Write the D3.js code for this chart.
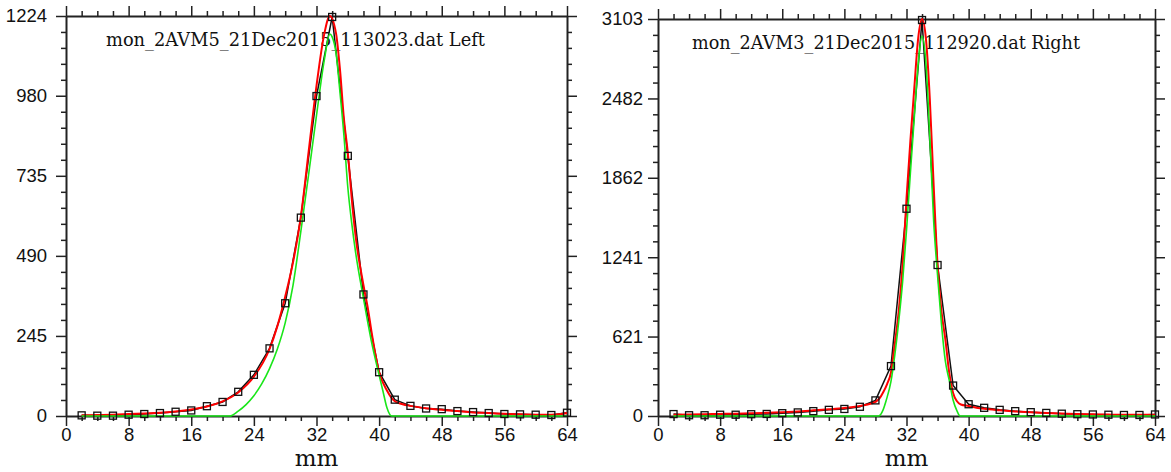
<!DOCTYPE html>
<html>
<head>
<meta charset="utf-8">
<script src="https://cdn.jsdelivr.net/npm/d3@7"></script>
<style>
    body { margin: 0; background: #fff; }
    .axis path, .axis line { stroke: #222; }
    .frame path { stroke-width: 2px; }
    .axis line { stroke-width: 1.5px; }
    .title { font-family: "DejaVu Serif", serif; font-size: 19px; fill: #111; }
    .axis-title { font-family: "DejaVu Serif", serif; font-size: 23px; fill: #111; }
</style>
</head>
<body>
<svg id="chart" width="1171" height="472"></svg>
<script>

// scan positions (mm) of the measured points
var scanPos = [2, 4, 6, 8, 10, 12, 14, 16, 18, 20, 22, 24, 26, 28, 30, 32,
               34, 36, 38, 40, 42, 44, 46, 48, 50, 52, 54, 56, 58, 60, 62, 64];

var xTicks = [0, 8, 16, 24, 32, 40, 48, 56, 64];

// ---- Left monitor ----
var leftMeasured = [2, 1, 1, 4, 6, 9, 13, 17, 30, 43, 74, 126, 207, 345, 607, 979,
                    1221, 796, 372, 134, 50, 31, 23, 21, 15, 12, 9, 6, 5, 4, 3, 10];

var leftFitX = [2, 4, 6, 8, 10, 12, 14, 16, 18, 20, 22, 24, 26, 27, 28, 29, 30, 31, 32, 33, 33.7,
                34.5, 35, 35.5, 36, 36.6, 37, 38, 38.6, 39, 40, 41, 42, 43, 44, 46, 48, 50, 52,
                54, 56, 58, 60, 62, 63, 64];
var leftFit = [2, 3, 4, 6, 8, 10, 14, 20, 29, 45, 72, 120, 205, 275, 365, 470, 610, 810, 1010, 1170, 1224,
               1170, 1060, 910, 805, 640, 550, 400, 324, 262, 135, 78, 45, 36, 31, 24, 19, 15, 11,
               9, 7, 5, 4, 4, 5, 9];

var leftGaussX = [2, 20.9, 22, 23, 24, 25, 26, 27, 28, 29, 30, 31, 32, 33, 33.7, 34, 34.5, 35,
                  35.5, 36, 36.5, 37, 38, 39, 40, 40.5, 41, 41.6, 64];
var leftGauss = [0, 0, 15, 35, 62, 98, 145, 205, 285, 400, 565, 740, 920, 1090, 1169, 1160, 1110, 990,
                 860, 700, 590, 500, 360, 230, 125, 75, 25, 0, 0];

var leftYTicks = [0, 245, 490, 735, 980, 1224];

// ---- Right monitor ----
var rightMeasured = [15, 6, 6, 10, 10, 14, 16, 22, 28, 38, 48, 55, 72, 122, 390, 1620,
                     3095, 1180, 238, 92, 64, 48, 38, 30, 24, 18, 14, 12, 10, 8, 8, 12];

var rightFitX = [2, 4, 6, 8, 10, 12, 14, 16, 18, 20, 22, 24, 26, 27, 28, 28.5, 29, 29.5, 30, 30.5,
                 31, 31.5, 32, 32.5, 33, 33.5, 34, 34.5, 35, 35.5, 36, 36.5, 37, 37.5, 38, 38.5,
                 39, 40, 41, 42, 44, 46, 48, 50, 52, 54, 56, 58, 60, 62, 64];
var rightFit = [10, 12, 14, 16, 18, 21, 25, 30, 36, 44, 52, 62, 78, 90, 110, 135, 185, 250, 340, 568,
                820, 1180, 1700, 2150, 2560, 2950, 3103, 2950, 2480, 1800, 1180, 820, 600, 340, 180, 115,
                90, 78, 65, 56, 45, 36, 29, 23, 19, 15, 13, 11, 10, 9, 9];

var rightGaussX = [2, 28.4, 29, 29.4, 30, 30.5, 31, 31.5, 32, 32.5, 33, 33.5, 34, 34.5, 35, 35.5,
                   36, 36.5, 37, 37.5, 38, 38.5, 38.9, 64];
var rightGauss = [0, 0, 50, 125, 270, 480, 740, 1050, 1450, 1900, 2330, 2750, 2970, 2760, 2180, 1520,
                  1100, 720, 430, 280, 125, 40, 0, 0];

var rightYTicks = [0, 621, 1241, 1862, 2482, 3103];


/*
 * profileChart - one monitor panel (measured points, fit, gaussian)
 */
profileChart = function(_svg, _cfg){
    this.svg = _svg;
    this.cfg = _cfg;
    this.initVis();
}

profileChart.prototype.initVis = function(){
    var vis = this;
    var c = vis.cfg;

    vis.x = d3.scaleLinear().domain([0, 64]).range([c.left, c.right]);
    vis.y = d3.scaleLinear().domain([0, c.yTicks[c.yTicks.length - 1]]).range([c.bottom, c.top]);

    // minor ticks: every 2 mm on x, 5 subdivisions on y
    vis.xMinor = d3.range(0, 65, 2).filter(function(v){ return v % 8 != 0; });
    vis.yMinor = [];
    for (var i = 0; i < c.yTicks.length - 1; i++) {
        var step = (c.yTicks[i + 1] - c.yTicks[i]) / 5;
        for (var k = 1; k < 5; k++) vis.yMinor.push(c.yTicks[i] + k * step);
    }

    vis.g = vis.svg.append("g");
    vis.drawAxes();
    vis.updateVis();
}

profileChart.prototype.drawAxes = function(){
    var vis = this;
    var c = vis.cfg;
    var labelFont = function(sel){
        sel.attr("font-family", "'Liberation Sans', Arial, sans-serif")
           .attr("font-size", 18.5)
           .selectAll("text").attr("fill", "#111");
    };

    // bottom
    vis.g.append("g").attr("class", "axis frame")
        .attr("transform", "translate(0," + c.bottom + ")")
        .call(d3.axisBottom(vis.x).tickValues(xTicks).tickSize(10).tickSizeOuter(0).tickPadding(2))
        .call(labelFont);
    vis.g.append("g").attr("class", "axis")
        .attr("transform", "translate(0," + c.bottom + ")")
        .call(d3.axisBottom(vis.x).tickValues(vis.xMinor).tickSize(5).tickSizeOuter(0).tickFormat(""));

    // top
    vis.g.append("g").attr("class", "axis frame")
        .attr("transform", "translate(0," + c.top + ")")
        .call(d3.axisTop(vis.x).tickValues(xTicks).tickSize(10).tickSizeOuter(0).tickFormat(""));
    vis.g.append("g").attr("class", "axis")
        .attr("transform", "translate(0," + c.top + ")")
        .call(d3.axisTop(vis.x).tickValues(vis.xMinor).tickSize(5).tickSizeOuter(0).tickFormat(""));

    // left
    vis.g.append("g").attr("class", "axis frame")
        .attr("transform", "translate(" + c.left + ",0)")
        .call(d3.axisLeft(vis.y).tickValues(c.yTicks).tickSize(10).tickSizeOuter(0)
            .tickPadding(c.yPad).tickFormat(function(d){ return d; }))
        .call(labelFont);
    vis.g.append("g").attr("class", "axis")
        .attr("transform", "translate(" + c.left + ",0)")
        .call(d3.axisLeft(vis.y).tickValues(vis.yMinor).tickSize(5).tickSizeOuter(0).tickFormat(""));

    // right
    vis.g.append("g").attr("class", "axis frame")
        .attr("transform", "translate(" + c.right + ",0)")
        .call(d3.axisRight(vis.y).tickValues(c.yTicks).tickSize(10).tickSizeOuter(0).tickFormat(""));
    vis.g.append("g").attr("class", "axis")
        .attr("transform", "translate(" + c.right + ",0)")
        .call(d3.axisRight(vis.y).tickValues(vis.yMinor).tickSize(5).tickSizeOuter(0).tickFormat(""));

    vis.g.append("text")
        .attr("class", "axis-title")
        .attr("x", vis.x(32))
        .attr("y", 466)
        .attr("text-anchor", "middle")
        .text("mm");

    vis.g.append("text")
        .attr("class", "title")
        .attr("x", c.titleX)
        .attr("y", c.titleY)
        .attr("textLength", c.titleLen)
        .attr("lengthAdjust", "spacingAndGlyphs")
        .text(c.title);
}

profileChart.prototype.updateVis = function(){
    var vis = this;
    var c = vis.cfg;

    var measured = scanPos.map(function(d, i){ return { x: d, y: c.measured[i] }; });
    var fit = c.fitX.map(function(d, i){ return { x: d, y: c.fit[i] }; });
    var gauss = c.gaussX.map(function(d, i){ return { x: d, y: c.gauss[i] }; });

    var straight = d3.line()
        .x(function(d){ return vis.x(d.x); })
        .y(function(d){ return vis.y(d.y); });
    var smooth = d3.line()
        .curve(d3.curveMonotoneX)
        .x(function(d){ return vis.x(d.x); })
        .y(function(d){ return vis.y(d.y); });

    vis.g.append("path").datum(measured)
        .attr("fill", "none").attr("stroke", "#111").attr("stroke-width", 1.5)
        .attr("d", straight);

    vis.g.append("path").datum(fit)
        .attr("fill", "none").attr("stroke", "#ff0000").attr("stroke-width", 2)
        .attr("d", smooth);

    vis.g.append("path").datum(gauss)
        .attr("fill", "none").attr("stroke", "#19e619").attr("stroke-width", 1.6)
        .attr("d", smooth);

    vis.g.selectAll(".pt").data(measured).enter().append("rect")
        .attr("class", "pt")
        .attr("x", function(d){ return vis.x(d.x) - 3.5; })
        .attr("y", function(d){ return vis.y(d.y) - 3.5; })
        .attr("width", 7).attr("height", 7)
        .attr("fill", "none").attr("stroke", "#111").attr("stroke-width", 1.3);
}


var svg = d3.select("#chart");

var leftPanel = new profileChart(svg, {
    left: 66, right: 567, top: 16, bottom: 416, yPad: 9,
    yTicks: leftYTicks, measured: leftMeasured,
    fitX: leftFitX, fit: leftFit, gaussX: leftGaussX, gauss: leftGauss,
    title: "mon_2AVM5_21Dec2015_113023.dat Left", titleX: 106, titleY: 46, titleLen: 379
});

var rightPanel = new profileChart(svg, {
    left: 658, right: 1155, top: 19, bottom: 416, yPad: 5,
    yTicks: rightYTicks, measured: rightMeasured,
    fitX: rightFitX, fit: rightFit, gaussX: rightGaussX, gauss: rightGauss,
    title: "mon_2AVM3_21Dec2015_112920.dat Right", titleX: 692, titleY: 49, titleLen: 388
});

</script>
</body>
</html>
